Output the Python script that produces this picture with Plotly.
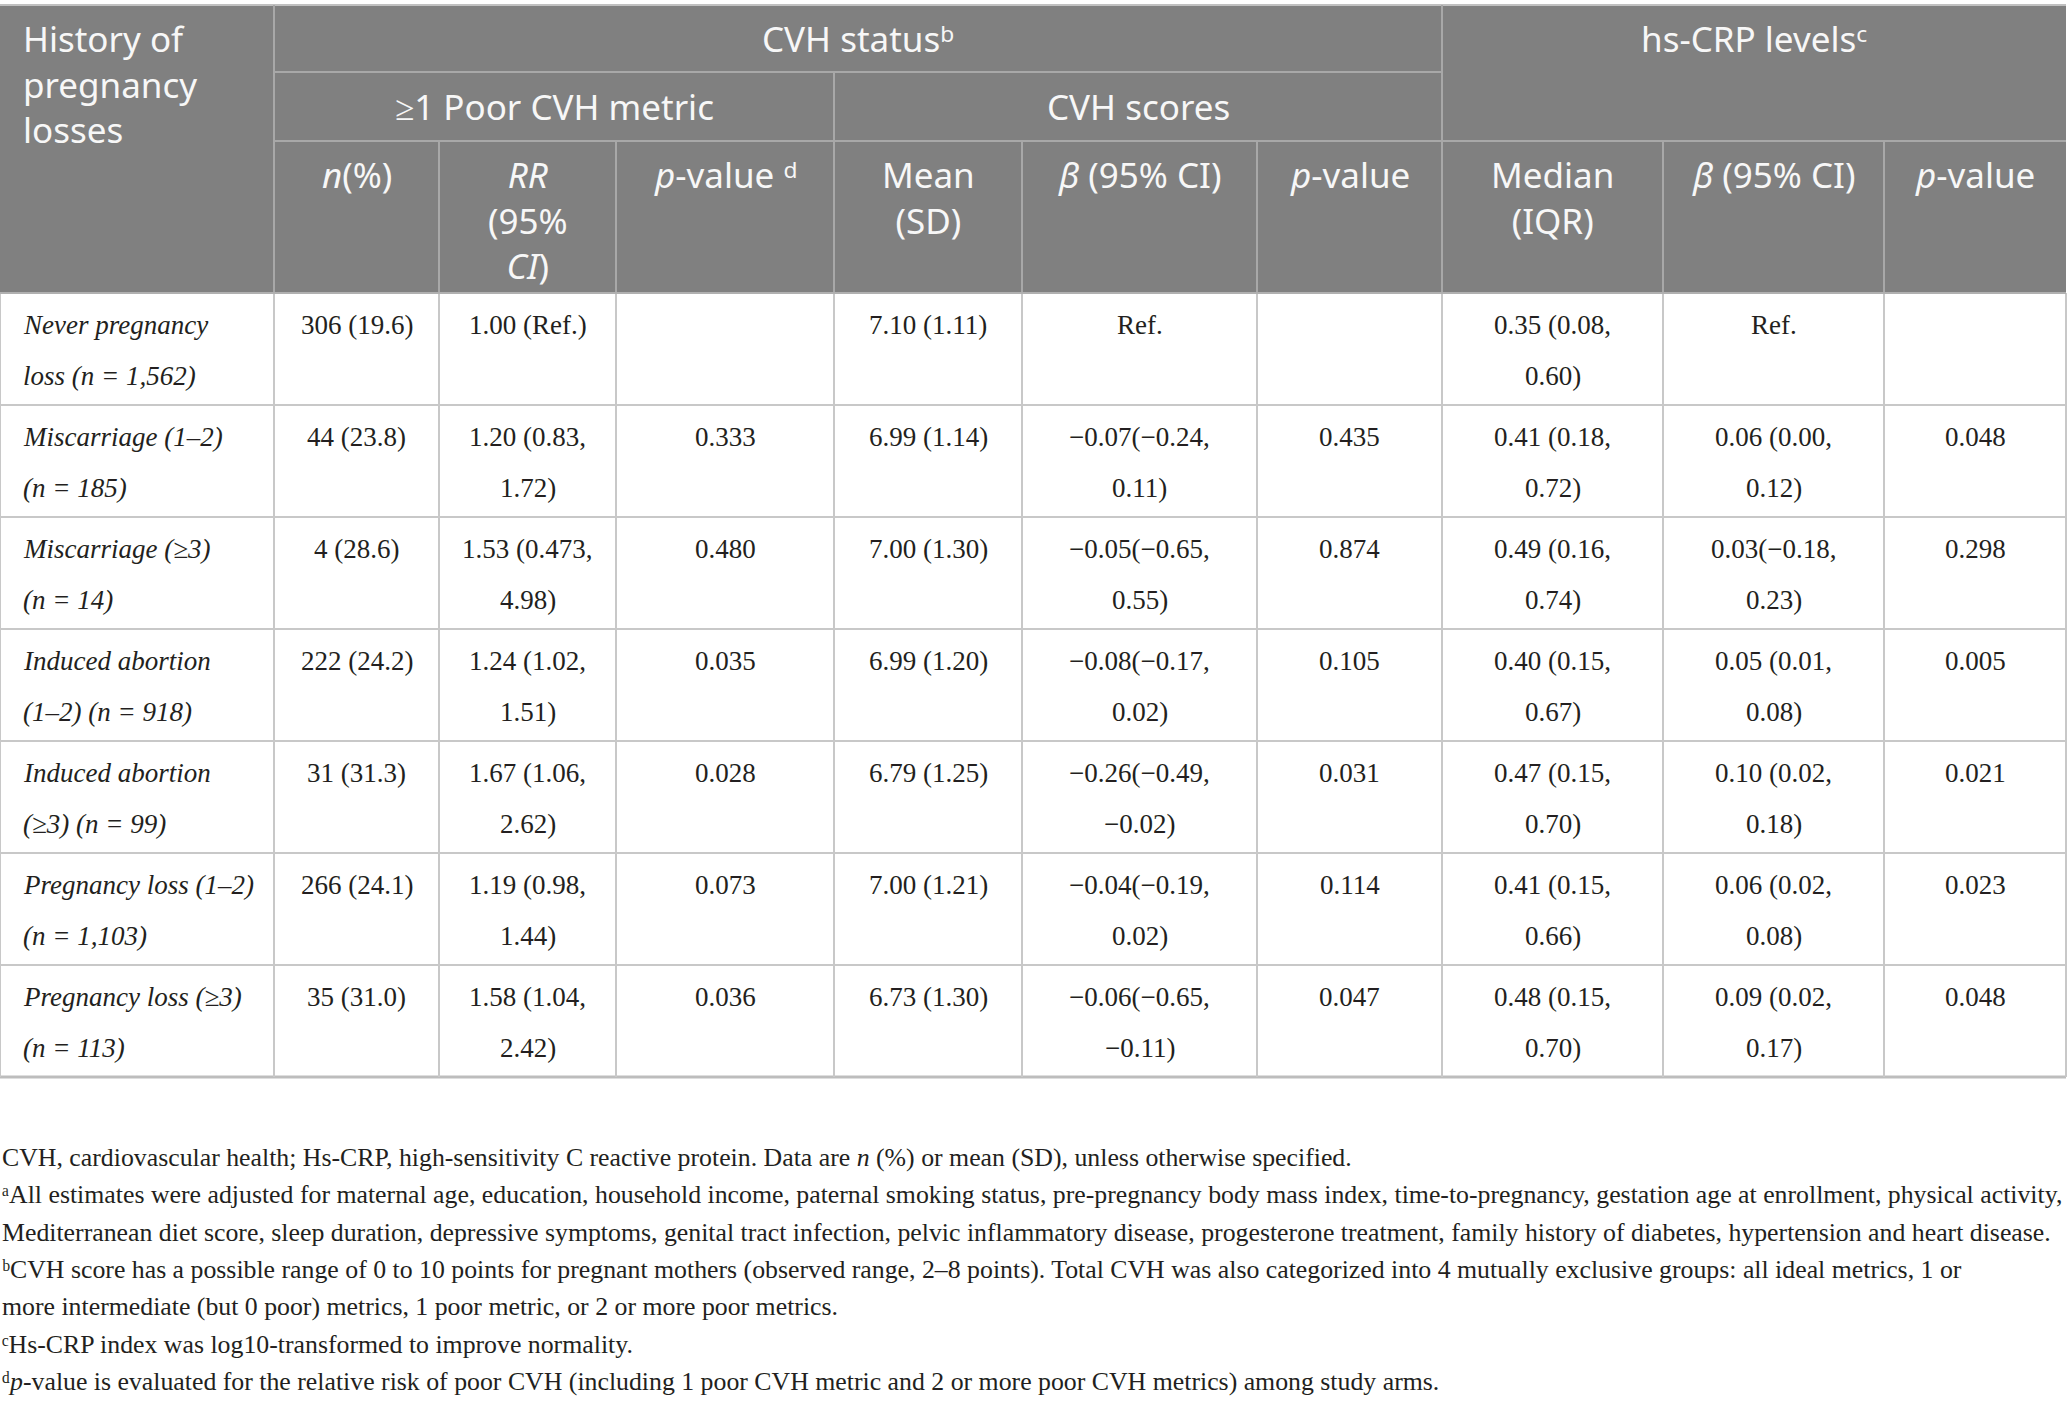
import plotly.graph_objects as go

# ---- table content -------------------------------------------------------
groups = ["Never pregnancy<br>loss (n = 1,562)",
          "Miscarriage (1–2)<br>(n = 185)",
          "Miscarriage (≥3)<br>(n = 14)",
          "Induced abortion<br>(1–2) (n = 918)",
          "Induced abortion<br>(≥3) (n = 99)",
          "Pregnancy loss (1–2)<br>(n = 1,103)",
          "Pregnancy loss (≥3)<br>(n = 113)"]
n_pct = ["306 (19.6)", "44 (23.8)", "4 (28.6)", "222 (24.2)", "31 (31.3)",
         "266 (24.1)", "35 (31.0)"]
rr_ci = ["1.00 (Ref.)", "1.20 (0.83,<br>1.72)", "1.53 (0.473,<br>4.98)",
         "1.24 (1.02,<br>1.51)", "1.67 (1.06,<br>2.62)", "1.19 (0.98,<br>1.44)",
         "1.58 (1.04,<br>2.42)"]
p_rr = ["", "0.333", "0.480", "0.035", "0.028", "0.073", "0.036"]
cvh_mean = ["7.10 (1.11)", "6.99 (1.14)", "7.00 (1.30)", "6.99 (1.20)",
            "6.79 (1.25)", "7.00 (1.21)", "6.73 (1.30)"]
cvh_beta = ["Ref.", "−0.07(−0.24,<br>0.11)", "−0.05(−0.65,<br>0.55)",
            "−0.08(−0.17,<br>0.02)", "−0.26(−0.49,<br>−0.02)",
            "−0.04(−0.19,<br>0.02)", "−0.06(−0.65,<br>−0.11)"]
p_cvh = ["", "0.435", "0.874", "0.105", "0.031", "0.114", "0.047"]
crp_median = ["0.35 (0.08,<br>0.60)", "0.41 (0.18,<br>0.72)", "0.49 (0.16,<br>0.74)",
              "0.40 (0.15,<br>0.67)", "0.47 (0.15,<br>0.70)", "0.41 (0.15,<br>0.66)",
              "0.48 (0.15,<br>0.70)"]
crp_beta = ["Ref.", "0.06 (0.00,<br>0.12)", "0.03(−0.18,<br>0.23)",
            "0.05 (0.01,<br>0.08)", "0.10 (0.02,<br>0.18)", "0.06 (0.02,<br>0.08)",
            "0.09 (0.02,<br>0.17)"]
p_crp = ["", "0.048", "0.298", "0.005", "0.021", "0.023", "0.048"]

col_heads = ["<i>n</i>(%)", "<i>RR</i><br>(95%<br><i>CI</i>)", "<i>p</i>-value ᵈ",
             "Mean<br>(SD)", "<i>β</i> (95% CI)", "<i>p</i>-value",
             "Median<br>(IQR)", "<i>β</i> (95% CI)", "<i>p</i>-value"]

footnotes = [
    "CVH, cardiovascular health; Hs-CRP, high-sensitivity C reactive protein. Data are <i>n</i> (%) or mean (SD), unless otherwise specified.",
    "ᵃAll estimates were adjusted for maternal age, education, household income, paternal smoking status, pre-pregnancy body mass index, time-to-pregnancy, gestation age at enrollment, physical activity,",
    "Mediterranean diet score, sleep duration, depressive symptoms, genital tract infection, pelvic inflammatory disease, progesterone treatment, family history of diabetes, hypertension and heart disease.",
    "ᵇCVH score has a possible range of 0 to 10 points for pregnant mothers (observed range, 2–8 points). Total CVH was also categorized into 4 mutually exclusive groups: all ideal metrics, 1 or",
    "more intermediate (but 0 poor) metrics, 1 poor metric, or 2 or more poor metrics.",
    "ᶜHs-CRP index was log10-transformed to improve normality.",
    "ᵈ<i>p</i>-value is evaluated for the relative risk of poor CVH (including 1 poor CVH metric and 2 or more poor CVH metrics) among study arms.",
]

# ---- geometry / style ----------------------------------------------------
W, H = 2068, 1405
col_x = [0, 274, 439, 616, 834, 1022, 1257, 1442, 1663, 1884, 2066]
head_top, head_r1, head_r2, head_bot = 5, 72, 141, 293
row_h = 112
n_rows = len(groups)
row_y = [head_bot + row_h * i for i in range(n_rows + 1)]

HEAD_FONT = "Noto Sans"
BODY_FONT = "Liberation Serif"
HEAD_BG = "#808080"
HEAD_LINE = "#a8a8a8"
BODY_LINE = "#c8c8c8"
HEAD_TXT = "#f7f7f7"
BODY_TXT = "#231f20"
hs, bs, fs = 35, 27, 25.8

fig = go.Figure()
shapes = []
annotations = []


def line(x0, y0, x1, y1, color, width=2):
    shapes.append(dict(type="line", xref="x", yref="y", x0=x0, y0=y0, x1=x1, y1=y1,
                       line=dict(color=color, width=width)))


def text(x, baseline, s, font, size, color, anchor="center", italic=False):
    # baseline = baseline of first line; plotly spaces extra lines by 1.3em
    k = 0.39 if font == HEAD_FONT else 0.34
    n = s.count("<br>")
    mid = baseline + n * 1.3 * size / 2 - k * size
    annotations.append(dict(x=x, y=mid, xref="x", yref="y", text=s,
                            showarrow=False, xanchor=anchor, yanchor="middle",
                            align="left" if anchor == "left" else "center",
                            font=dict(family=font, size=size, color=color,
                                      style="italic" if italic else "normal")))


# header background
shapes.append(dict(type="rect", xref="x", yref="y", x0=0, y0=head_top, x1=col_x[-1],
                   y1=head_bot, fillcolor=HEAD_BG, line=dict(width=0), layer="below"))

# header grid
line(0, head_top, col_x[-1], head_top, "#c0c0c0")
line(col_x[1], head_r1, col_x[7], head_r1, HEAD_LINE)
line(col_x[1], head_r2, col_x[-1], head_r2, HEAD_LINE)
line(col_x[1], head_top, col_x[1], head_bot, HEAD_LINE)
line(col_x[7], head_top, col_x[7], head_bot, HEAD_LINE)
line(col_x[4], head_r1, col_x[4], head_bot, HEAD_LINE)
for cx in col_x[2:-1]:
    line(cx, head_r2, cx, head_bot, HEAD_LINE)

# header text
text(21, 52, "History of<br>pregnancy<br>losses", HEAD_FONT, hs, HEAD_TXT, "left")
text((col_x[1] + col_x[7]) / 2, 52, "CVH statusᵇ", HEAD_FONT, hs, HEAD_TXT)
text((col_x[7] + col_x[10]) / 2, 52, "hs-CRP levelsᶜ", HEAD_FONT, hs, HEAD_TXT)
text((col_x[1] + col_x[4]) / 2, 120, "≥1 Poor CVH metric", HEAD_FONT, hs, HEAD_TXT)
text((col_x[4] + col_x[7]) / 2, 120, "CVH scores", HEAD_FONT, hs, HEAD_TXT)
for j, head in enumerate(col_heads):
    cx = (col_x[j + 1] + col_x[j + 2]) / 2
    text(cx, 188, head, HEAD_FONT, hs, HEAD_TXT)

# body grid
for y in row_y[1:-1]:
    line(0, y, col_x[-1], y, BODY_LINE)
line(0, row_y[-1], col_x[-1], row_y[-1], "#bdbdbd", 3)
for cx in col_x:
    line(cx, head_bot, cx, row_y[-1], BODY_LINE)
line(0, head_bot, col_x[-1], head_bot, "#b0b0b0")

# body text (each line placed on its own baseline)
columns = [n_pct, rr_ci, p_rr, cvh_mean, cvh_beta, p_cvh, crp_median, crp_beta, p_crp]
for r in range(n_rows):
    top = row_y[r]
    for k, s in enumerate(groups[r].split("<br>")):
        text(21, top + 41 + 51 * k, s, BODY_FONT, bs, BODY_TXT, "left", italic=True)
    for j, col in enumerate(columns):
        cx = (col_x[j + 1] + col_x[j + 2]) / 2
        for k, s in enumerate(col[r].split("<br>")):
            if s:
                text(cx, top + 41 + 51 * k, s, BODY_FONT, bs, BODY_TXT)

# footnotes
for i, s in enumerate(footnotes):
    text(0, 1166 + 37.4 * i, s, BODY_FONT, fs, BODY_TXT, "left")

fig.update_layout(
    width=W, height=H, margin=dict(l=0, r=0, t=0, b=0),
    paper_bgcolor="white", plot_bgcolor="white",
    xaxis=dict(range=[0, W], visible=False, fixedrange=True),
    yaxis=dict(range=[H, 0], visible=False, fixedrange=True),
    shapes=shapes, annotations=annotations, showlegend=False,
)

fig.write_html("out.html", config={"displayModeBar": False},
               post_script="document.body.style.margin = '0px';")
